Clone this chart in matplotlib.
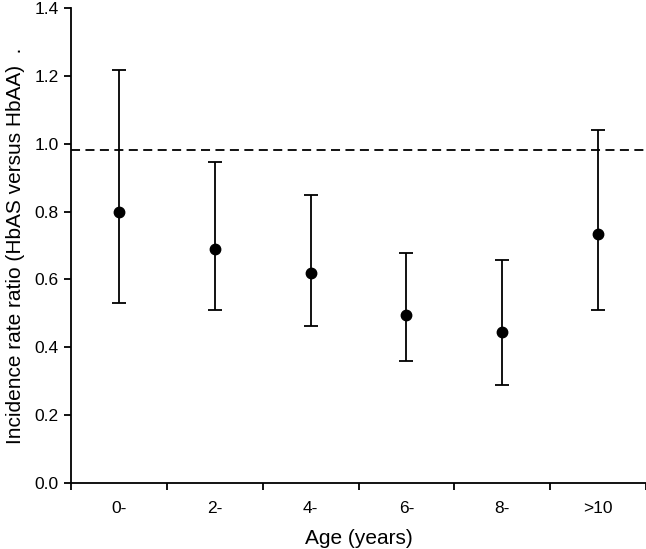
import numpy as np
import matplotlib
matplotlib.use("Agg")
import matplotlib.pyplot as plt

# data
ages = ["0-", "2-", "4-", "6-", "8-", ">10"]
irr = [0.80, 0.69, 0.62, 0.495, 0.446, 0.733]
ci_low = [0.532, 0.511, 0.463, 0.361, 0.29, 0.511]
ci_high = [1.217, 0.946, 0.848, 0.677, 0.658, 1.04]
ref_line = 0.982

plt.rcParams['font.family'] = ['Liberation Sans', 'DejaVu Sans']

fig = plt.figure(figsize=(6.46, 5.49), dpi=100)
ax = fig.add_axes([0.110, 0.1202, 0.890, 0.8652])

x = np.arange(len(ages))
irr = np.array(irr)
yerr = np.vstack([irr - np.array(ci_low), np.array(ci_high) - irr])

ax.errorbar(x, irr, yerr=yerr, fmt='o', color='black', ecolor='black',
            markersize=7.5, elinewidth=1.3, capsize=4.7, capthick=1.3)
ax.axhline(ref_line, color='black', linestyle=(0, (5, 3)), linewidth=1.3)

ax.set_xlim(-0.5, len(ages) - 0.5)
ax.set_ylim(0, 1.4)
ax.set_yticks(np.arange(0, 1.41, 0.2))
ax.set_yticklabels([f"{v:.1f}" for v in np.arange(0, 1.41, 0.2)])

# category labels centred, tick marks between categories
ax.set_xticks(x)
ax.set_xticklabels(ages)
ax.set_xticks(np.arange(-0.5, len(ages)), minor=True)
ax.tick_params(axis='x', which='major', length=0, pad=13, labelsize=12.5)
ax.tick_params(axis='x', which='minor', length=5, width=1.3, direction='out')
ax.tick_params(axis='y', length=5, width=1.3, direction='out', labelsize=12.5, pad=4)

for side in ['top', 'right']:
    ax.spines[side].set_visible(False)
for side in ['left', 'bottom']:
    ax.spines[side].set_linewidth(1.3)

ax.set_xlabel("Age (years)", fontsize=15, labelpad=9)
ax.set_ylabel("Incidence rate ratio (HbAS versus HbAA)  .", fontsize=15, labelpad=7)

fig.savefig("out.png", dpi=100)
